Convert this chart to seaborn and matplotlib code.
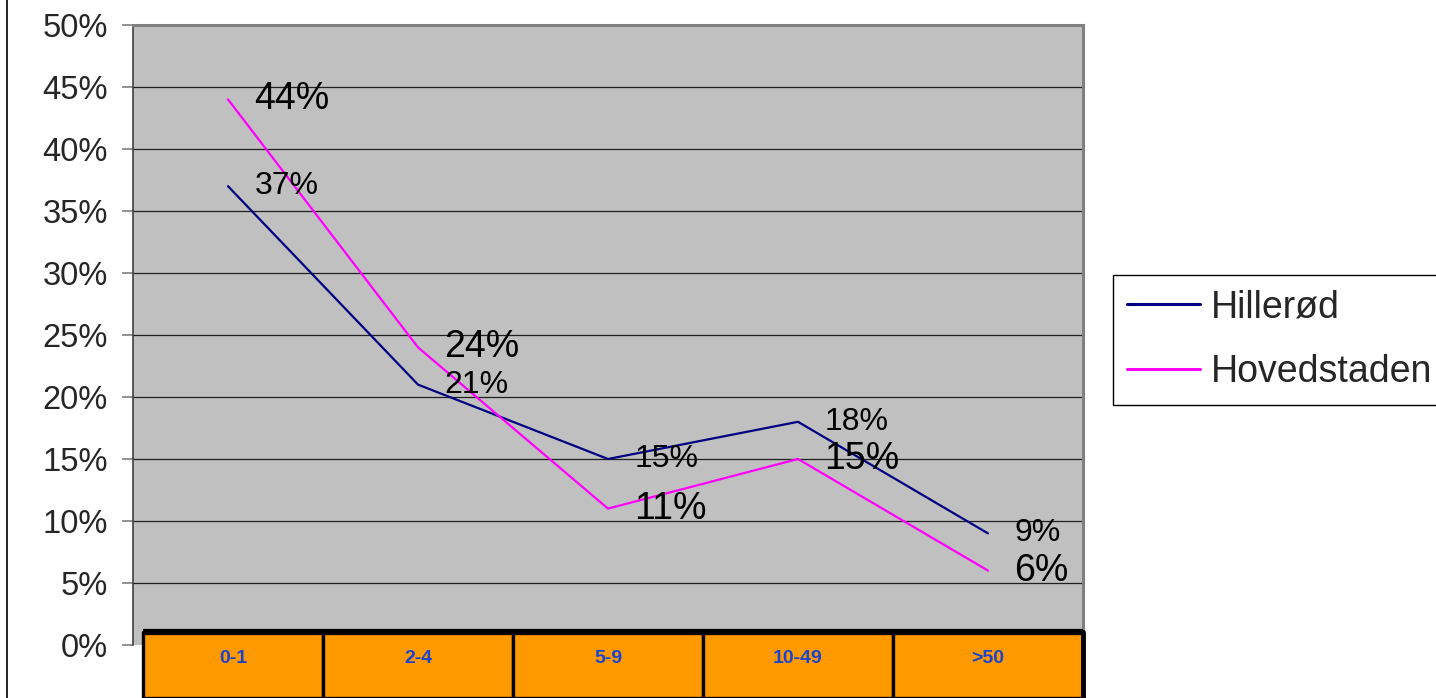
import matplotlib
matplotlib.use("Agg")
import matplotlib.pyplot as plt
from matplotlib.lines import Line2D
import pandas as pd
import seaborn as sns

# Company size groups (number of employees) and share of companies
categories = ["0-1", "2-4", "5-9", "10-49", ">50"]
hillerod = [37, 21, 15, 18, 9]
hovedstaden = [44, 24, 11, 15, 6]
series_names = ["Hillerød", "Hovedstaden"]
y_ticks = [0, 5, 10, 15, 20, 25, 30, 35, 40, 45, 50]

df = pd.DataFrame({
    "pos": list(range(len(categories))) * 2,
    "kategori": categories * 2,
    "andel": hillerod + hovedstaden,
    "region": [series_names[0]] * len(categories) + [series_names[1]] * len(categories),
})

sns.set_style("white")
plt.rcParams["font.family"] = ["Liberation Sans", "DejaVu Sans"]

W, H = 1436, 698
fig = plt.figure(figsize=(W / 100, H / 100), dpi=100)
fig.patch.set_facecolor("white")

# main plot area (pixel box 133..1083 x 25..645)
ax = fig.add_axes([133 / W, 1 - 645 / H, 950 / W, 620 / H])
ax.set_facecolor("#C0C0C0")

palette = {series_names[0]: "#000080", series_names[1]: "#FF00FF"}
sns.lineplot(data=df, x="pos", y="andel", hue="region", palette=palette,
             linewidth=1.6, ax=ax, legend=False, sort=False)

ax.set_xlim(-0.5, len(categories) - 0.5)
ax.set_ylim(0, 50)
ax.set_yticks(y_ticks)
ax.set_yticklabels([f"{t}%" for t in y_ticks], fontsize=23.5)
ax.set_xticks([])
ax.set_xlabel("")
ax.set_ylabel("")
ax.grid(False)
for t in y_ticks[1:-1]:
    ax.axhline(t, color="#202020", linewidth=0.9, zorder=0.5)
ax.tick_params(axis="y", direction="out", length=8, width=1.2, color="#808080",
               pad=10, left=True)
for side in ["top", "right"]:
    ax.spines[side].set_visible(True)
    ax.spines[side].set_color("#808080")
    ax.spines[side].set_linewidth(2.2)
ax.spines["left"].set_color("#404040")
ax.spines["left"].set_linewidth(1.2)
ax.spines["bottom"].set_visible(False)

# value labels
for i, v in enumerate(hillerod):
    ax.annotate(f"{v}%", (i, v), xytext=(19, 0), textcoords="offset points",
                fontsize=23, va="center", ha="left", color="black")
for i, v in enumerate(hovedstaden):
    ax.annotate(f"{v}%", (i, v), xytext=(19, 0), textcoords="offset points",
                fontsize=27, va="center", ha="left", color="black")

# category table under the plot; columns follow the plot's categories,
# with the table starting slightly right of the plot's left edge
x_left = 143
axt = fig.add_axes([x_left / W, 0, (1083 - x_left) / W, 66 / H])
axt.bar(range(len(categories)), [1.5] * len(categories), width=1.0,
        color="#FF9900", edgecolor="black", linewidth=2.4)
col_w = 950 / len(categories)
axt.set_xlim(-0.5 + (x_left - 133) / col_w, len(categories) - 0.5)
axt.set_ylim(0, 1)
x0, x1 = axt.get_xlim()
axt.plot([x0, x1], [1, 1], color="black", linewidth=4.5,
         clip_on=False, solid_capstyle="butt")
axt.plot([x0, x0], [0, 1], color="black", linewidth=2.4, clip_on=False)
axt.plot([x1, x1], [0, 1], color="black", linewidth=3.5, clip_on=False)
for i, c in enumerate(categories):
    # centre each label in the visible part of its cell
    cx = (max(i - 0.5, x0) + min(i + 0.5, x1)) / 2
    axt.text(cx, 0.6, c, ha="center", va="center", fontsize=14,
             fontweight="bold", color="#1A44CC")
axt.set_axis_off()

# legend
handles = [Line2D([0], [0], color=palette[n], linewidth=2.2) for n in series_names]
fig.legend(handles, series_names, loc="upper left",
           bbox_to_anchor=(1113 / W, 1 - 275 / H), fontsize=27,
           frameon=True, fancybox=False, edgecolor="black", framealpha=1,
           handlelength=1.95, handletextpad=0.28, labelspacing=0.78,
           borderpad=0.38, borderaxespad=0)

# frame line at the left edge
fig.add_artist(Line2D([7 / W, 7 / W], [0, 1], transform=fig.transFigure,
                      color="black", linewidth=1.2))

fig.savefig("out.png", dpi=100)
